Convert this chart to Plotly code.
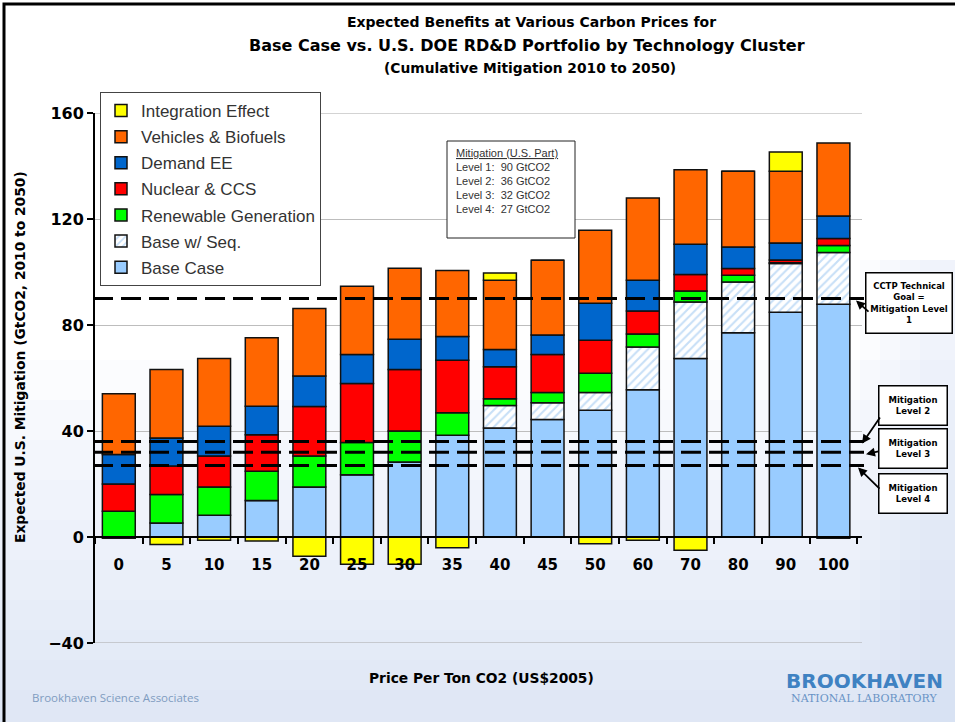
import plotly.graph_objects as go

# ---------------- data ----------------
prices = ["0", "5", "10", "15", "20", "25", "30", "35", "40", "45", "50", "60", "70", "80", "90", "100"]
base_case = [0, 5.3, 8.2, 13.8, 18.9, 23.5, 28.3, 38.4, 41.1, 44.3, 47.8, 55.6, 67.4, 77.1, 84.8, 87.8]
base_seq = [0, 0, 0, 0, 0, 0, 0, 0, 8.5, 6.4, 6.7, 16.1, 21.3, 19.1, 18.4, 19.6]
renewable = [9.7, 10.7, 10.7, 11.0, 11.7, 12.2, 11.7, 8.5, 2.6, 3.8, 7.3, 4.9, 4.1, 2.6, 0.3, 2.6]
nuclear_ccs = [10.3, 10.8, 11.7, 13.8, 18.6, 22.2, 23.2, 19.8, 12.0, 14.4, 12.4, 8.7, 6.3, 2.5, 1.0, 2.6]
demand_ee = [11.1, 10.6, 11.2, 10.7, 11.6, 11.0, 11.4, 9.0, 6.6, 7.3, 14.0, 11.6, 11.4, 8.1, 6.4, 8.5]
vehicles = [23.0, 25.8, 25.6, 25.9, 25.4, 25.7, 26.8, 24.9, 26.1, 28.2, 27.6, 31.0, 28.1, 28.6, 27.1, 27.6]
integration = [-0.5, -2.8, -1.2, -1.5, -7.3, -10.3, -10.3, -4.1, 2.7, 0, -2.5, -1.2, -5.0, 0, 7.3, -0.5]

mitigation_levels = [90, 36, 32, 27]
y_ticks = [-40, 0, 40, 80, 120, 160]

# ---------------- layout helpers ----------------
W, H = 955, 722
L, R, T, B = 95, 93, 113, 79
PW, PH = W - L - R, H - T - B


def px_x(px):
    return (px - L) / PW


def px_y(py):
    return (H - B - py) / PH


FONT = "Liberation Sans"
BOLD = "DejaVu Sans"
fig = go.Figure()

series = [
    ("Base Case", base_case, dict(color="#99ccff")),
    ("Base w/ Seq.", base_seq, dict(color="white", pattern=dict(shape="/", fgcolor="#8fbfef", bgcolor="white", size=6, solidity=0.35))),
    ("Renewable Generation", renewable, dict(color="#00ff00")),
    ("Nuclear & CCS", nuclear_ccs, dict(color="#ff0000")),
    ("Demand EE", demand_ee, dict(color="#0066cc")),
    ("Vehicles & Biofuels", vehicles, dict(color="#ff6600")),
    ("Integration Effect", integration, dict(color="#ffff00")),
]
n = len(series)
for i, (name, vals, mk) in enumerate(series):
    mk = dict(mk)
    mk["line"] = dict(color="#111111", width=1.5)
    fig.add_trace(go.Bar(x=prices, y=vals, name=name, marker=mk, legendgroup=name, legendrank=n - i))

shapes = []
# slide background tint (light blue toward bottom)
for top in [360, 400, 440, 480, 520, 560, 600, 630, 660, 690]:
    shapes.append(dict(type="rect", xref="paper", yref="paper", x0=px_x(-10), x1=px_x(W + 10),
                       y0=px_y(H + 10), y1=px_y(top), fillcolor="#c6dbf1", opacity=0.08,
                       line=dict(width=0), layer="below"))
for left in [860, 880, 900, 920]:
    shapes.append(dict(type="rect", xref="paper", yref="paper", x0=px_x(left), x1=px_x(W + 10),
                       y0=px_y(H + 10), y1=px_y(260), fillcolor="#c6dbf1", opacity=0.08,
                       line=dict(width=0), layer="below"))
# gridlines at the ends of the value range
for v in (y_ticks[0], y_ticks[-1]):
    shapes.append(dict(type="line", xref="paper", yref="y", x0=0, x1=1, y0=v, y1=v,
                       line=dict(color="#a8a8a8", width=1.2), layer="above"))
# slide frame
shapes.append(dict(type="rect", xref="paper", yref="paper", x0=px_x(4), x1=px_x(W + 20),
                   y0=px_y(H + 20), y1=px_y(4), line=dict(color="black", width=3), fillcolor="rgba(0,0,0,0)"))
# mitigation level dashed lines
for v in mitigation_levels:
    shapes.append(dict(type="line", xref="paper", yref="y", x0=px_x(93), x1=px_x(864), y0=v, y1=v,
                       line=dict(color="black", width=3, dash="20px,8px")))
# mitigation info box
shapes.append(dict(type="rect", xref="paper", yref="paper", x0=px_x(447), x1=px_x(575),
                   y0=px_y(238), y1=px_y(141), line=dict(color="#222", width=1), fillcolor="white"))

annotations = []


def note(text, px, py, size, family=FONT, color="black", bold=False, xanchor="center", **kw):
    f = dict(family=family, size=size, color=color)
    if bold:
        f["weight"] = "bold"
    d = dict(text=text, xref="paper", yref="paper", x=px_x(px), y=px_y(py), showarrow=False,
             xanchor=xanchor, yanchor="middle", font=f)
    d.update(kw)
    annotations.append(d)


# title
note("Expected Benefits at Various Carbon Prices for", 531, 22, 14, BOLD, bold=True)
note("Base Case vs. U.S. DOE RD&D Portfolio by Technology Cluster", 527, 45, 16, BOLD, bold=True)
note("(Cumulative Mitigation 2010 to 2050)", 530, 68, 13.8, BOLD, bold=True)
# axis titles
note("Expected U.S. Mitigation (GtCO2, 2010 to 2050)", 20, 357, 13.8, BOLD, bold=True, textangle=-90)
note("Price Per Ton CO2 (US$2005)", 482, 678, 13.8, BOLD, bold=True)
# mitigation box text
lines = ["<u>Mitigation (U.S. Part)</u>"] + [f"Level {i + 1}:  {v} GtCO2" for i, v in enumerate(mitigation_levels)]
for i, ln in enumerate(lines):
    note(ln, 454, 153 + 14 * i, 11, FONT, color="#333", xanchor="left")
# right-side callouts
boxes = [("CCTP Technical<br>Goal =<br>Mitigation Level<br>1", 909, 303, 85, 59),
         ("Mitigation<br>Level 2", 913, 405, 67, 38),
         ("Mitigation<br>Level 3", 913, 448, 67, 38),
         ("Mitigation<br>Level 4", 913, 493, 67, 38)]
for txt, cx, cy, w, h in boxes:
    note(txt, cx, cy, 8.5, BOLD, bold=True, width=w, height=h, bgcolor="white",
         bordercolor="black", borderwidth=1.5, borderpad=0)
arrows = [(856, 0, 870, 313), (862, 1, 881, 416), (866, 2, 880, 451), (858, 3, 881, 490)]
for hx, li, tx, ty in arrows:
    hy = (H - B) - (mitigation_levels[li] + 40) / 200 * PH + 2
    annotations.append(dict(text="", xref="paper", yref="paper", x=px_x(hx), y=px_y(hy),
                            ax=tx - hx, ay=ty - hy, showarrow=True, arrowhead=2,
                            arrowsize=1, arrowwidth=1.8, arrowcolor="black"))
# footer
note("Brookhaven Science Associates", 30, 697, 11.5, "Open Sans", color="#7f9cc0", xanchor="left")
note("BROOKHAVEN", 864, 681, 20, BOLD, color="#3f82c2", bold=True)
note("NATIONAL LABORATORY", 864, 698, 11, "DejaVu Serif", color="#6a94c6")

fig.update_layout(
    width=W, height=H,
    margin=dict(l=L, r=R, t=T, b=B, pad=0),
    paper_bgcolor="white", plot_bgcolor="rgba(0,0,0,0)",
    barmode="relative", bargap=0.31,
    showlegend=True,
    legend=dict(x=px_x(100), y=px_y(92), xanchor="left", yanchor="top",
                traceorder="grouped", tracegroupgap=1,
                bgcolor="white", bordercolor="#444", borderwidth=1,
                font=dict(family=FONT, size=17, color="#333")),
    xaxis=dict(type="category", range=[-0.5, 15.6], anchor="free", position=0.2,
               showline=True, linecolor="black", linewidth=2,
               ticks="outside", tickson="boundaries", ticklen=6, tickcolor="black", tickwidth=1.5,
               ticklabelstandoff=14, showgrid=False,
               tickfont=dict(family=BOLD, size=15, color="black", weight="bold")),
    yaxis=dict(range=[-40, 160], tickvals=y_ticks, showline=True, linecolor="black", linewidth=2,
               ticks="outside", ticklen=6, tickcolor="black", tickwidth=1.5,
               showgrid=True, gridcolor="#bdbdbd", gridwidth=1, zeroline=False,
               tickfont=dict(family=BOLD, size=16, color="black", weight="bold")),
    shapes=shapes, annotations=annotations,
)

fig.write_html("out.html", config={"displayModeBar": False},
               post_script="document.body.style.margin='0px';document.body.style.overflow='hidden';")
